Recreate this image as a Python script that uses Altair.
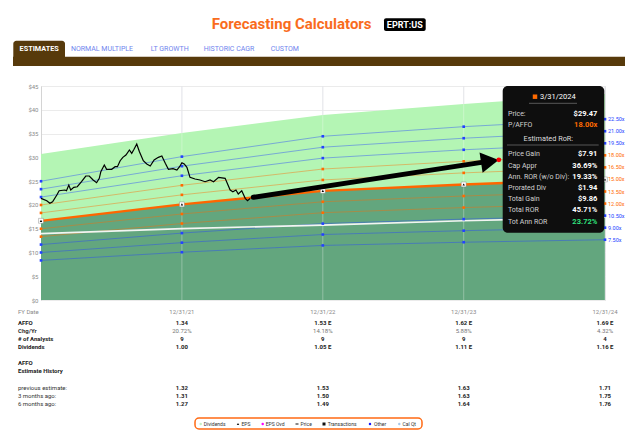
import altair as alt
import pandas as pd

# ---------------- data ----------------
fy_dates = ["2020-12-31", "2021-12-31", "2022-12-31", "2023-12-31", "2024-12-31"]
affo = [1.11, 1.34, 1.53, 1.62, 1.69]
dividends = [0.93, 1.00, 1.05, 1.11, 1.16]
upper_band = [30.7, 35.1, 38.9, 41.2, 43.3]
multiples = [7.5, 9, 10.5, 12, 13.5, 15, 16.5, 18, 19.5, 21, 22.5]
normal_multiple = 15

price_dates = ["2020-12-31", "2021-01-15", "2021-01-23", "2021-01-30", "2021-02-10", "2021-02-16",
               "2021-03-03", "2021-03-07", "2021-03-13", "2021-03-18", "2021-03-26", "2021-04-04",
               "2021-04-15", "2021-04-26", "2021-05-05", "2021-05-15", "2021-05-24", "2021-05-31",
               "2021-06-04", "2021-06-13", "2021-06-19", "2021-07-02", "2021-07-11", "2021-07-17",
               "2021-07-24", "2021-07-31", "2021-08-08", "2021-08-17", "2021-08-23", "2021-08-29",
               "2021-09-05", "2021-09-12", "2021-09-22", "2021-10-01", "2021-10-10", "2021-10-20",
               "2021-10-31", "2021-11-09", "2021-11-18", "2021-11-26", "2021-12-08", "2021-12-18",
               "2021-12-25", "2021-12-31", "2022-01-06", "2022-01-13", "2022-01-21", "2022-02-03",
               "2022-02-16", "2022-03-01", "2022-03-14", "2022-03-23", "2022-04-05", "2022-04-22",
               "2022-05-05", "2022-05-12", "2022-05-20", "2022-05-26", "2022-06-04", "2022-06-13",
               "2022-06-19", "2022-06-26"]
price_values = [21.38, 20.88, 20.33, 20.67, 22.08, 22.98, 23.13, 22.98, 24.18, 23.13, 23.70, 23.82,
                24.87, 26.07, 26.07, 25.23, 24.66, 25.59, 26.98, 28.39, 27.48, 27.48, 28.03, 28.03,
                29.29, 30.00, 30.49, 31.54, 30.85, 31.69, 32.80, 31.18, 29.29, 28.60, 28.18, 29.44,
                30.00, 30.28, 28.74, 27.48, 27.61, 27.33, 28.03, 28.87, 28.60, 27.90, 25.80, 25.44,
                25.23, 24.87, 25.23, 24.87, 25.80, 25.59, 23.13, 22.77, 23.13, 22.29, 22.98, 21.38,
                20.88, 21.38]

tip_date = "2024-03-31"
tip_date_label = "3/31/2024"
tip_price = 29.47
tip_top_labels = ["Price:", "P/AFFO"]
tip_top_values = ["$29.47", "18.00x"]
tip_ror_labels = ["Price Gain", "Cap Appr", "Ann. ROR (w/o Div):", "Prorated Div",
                  "Total Gain", "Total ROR", "Tot Ann ROR"]
tip_ror_values = ["$7.91", "36.69%", "19.33%", "$1.94", "$9.86", "45.71%", "23.72%"]

table_fy_labels = ["12/31/21", "12/31/22", "12/31/23", "12/31/24"]
table_affo = ["1.34", "1.53 E", "1.62 E", "1.69 E"]
table_chg = ["20.72%", "14.18%", "5.88%", "4.32%"]
table_analysts = ["9", "9", "9", "4"]
table_divs = ["1.00", "1.05 E", "1.11 E", "1.16 E"]
hist_prev = ["1.32", "1.53", "1.63", "1.71"]
hist_3m = ["1.31", "1.50", "1.63", "1.75"]
hist_6m = ["1.27", "1.49", "1.64", "1.76"]

tabs = ["ESTIMATES", "NORMAL MULTIPLE", "LT GROWTH", "HISTORIC CAGR", "CUSTOM"]
legend_labels = ["Dividends", "EPS", "EPS Ovd", "Price", "Transactions", "Other", "Cal Qt"]
title_text = "Forecasting Calculators"
ticker = "EPRT:US"

# ---------------- tables ----------------
fy_df = pd.DataFrame({"date": fy_dates, "affo": affo, "div": dividends, "upper": upper_band})
mult_df = pd.DataFrame([{"date": d, "affo": a, "mult": m}
                        for m in multiples for d, a in zip(fy_dates, affo)])
end_df = pd.DataFrame({"date": [fy_dates[-1]] * len(multiples),
                       "affo": [affo[-1]] * len(multiples), "mult": multiples})
price_df = pd.DataFrame({"date": price_dates, "price": price_values})
arrow_df = pd.DataFrame({"date": [price_dates[-1]], "price": [price_values[-1]],
                         "date2": [tip_date], "price2": [tip_price]})
tip_df = pd.DataFrame({"date": [tip_date], "price": [tip_price]})
table_df = pd.DataFrame({"date": fy_dates[1:], "fy": table_fy_labels, "affo": table_affo,
                         "chg": table_chg, "an": table_analysts, "div": table_divs,
                         "h0": hist_prev, "h3": hist_3m, "h6": hist_6m})
one = pd.DataFrame({"k": [0]})

FONT = "Roboto"
xscale = alt.Scale(domain=[alt.DateTime(year=2020, month=12, date=31, utc=True),
                           alt.DateTime(year=2024, month=12, date=31, utc=True)])
yscale = alt.Scale(domain=[0, 45], nice=False)
yaxis = alt.Axis(values=list(range(0, 50, 5)), labelExpr="'$' + datum.value", labelFont=FONT,
                 labelFontSize=6, labelColor="#8a8a8a", ticks=False, labelPadding=3,
                 domainColor="#d4d4d4", gridColor="#ebebeb", title=None)


def X(f="date"):
    return alt.X(f"{f}:T", scale=xscale, axis=None)


def Y(f):
    return alt.Y(f"{f}:Q", scale=yscale, axis=yaxis)


grp_expr = "(datum.mult >= 12 && datum.mult <= 18) ? 'o' : 'b'"
gcolor = alt.Color("grp:N", scale=alt.Scale(domain=["b", "o"], range=["#2342ff", "#ff6a00"]),
                   legend=None)

layers = []
# vertical grid under areas
layers.append(alt.Chart(fy_df.iloc[1:]).mark_rule(color="#dcdde3", strokeWidth=1).encode(x=X()))
# bands
layers.append(alt.Chart(fy_df).mark_area(color="#b4f5b4", opacity=1).encode(x=X(), y=Y("upper")))
layers.append(alt.Chart(fy_df).transform_calculate(price=f"{normal_multiple} * datum.affo")
              .mark_area(color="#63a67e", opacity=1).encode(x=X(), y=Y("price")))
layers.append(alt.Chart(fy_df.iloc[1:]).mark_rule(color="#ffffff", strokeWidth=1, opacity=0.3)
              .encode(x=X()))
# multiple lines
layers.append(alt.Chart(mult_df).transform_filter(f"datum.mult != {normal_multiple}")
              .transform_calculate(price="datum.mult * datum.affo", grp=grp_expr)
              .mark_line(strokeWidth=1, opacity=0.42)
              .encode(x=X(), y=Y("price"), detail="mult:N", color=gcolor))
# dividend line
layers.append(alt.Chart(fy_df).transform_calculate(price=f"{normal_multiple} * datum.div")
              .mark_line(color="#f2f5f2", strokeWidth=1.6).encode(x=X(), y=Y("price")))
# normal multiple line
layers.append(alt.Chart(fy_df).transform_calculate(price=f"{normal_multiple} * datum.affo")
              .mark_line(color="#ff6600", strokeWidth=2.4).encode(x=X(), y=Y("price")))
# squares at FY points
layers.append(alt.Chart(mult_df).transform_filter(f"datum.mult != {normal_multiple}")
              .transform_calculate(price="datum.mult * datum.affo", grp=grp_expr)
              .mark_square(size=7, opacity=1).encode(x=X(), y=Y("price"), color=gcolor))
# EPS markers
layers.append(alt.Chart(fy_df).transform_calculate(price=f"{normal_multiple} * datum.affo")
              .mark_square(size=24, color="#ffffff", opacity=1, stroke="#777777", strokeWidth=0.4)
              .encode(x=X(), y=Y("price")))
layers.append(alt.Chart(fy_df).transform_calculate(price=f"{normal_multiple} * datum.affo")
              .mark_point(shape="triangle-up", filled=True, size=6, color="#000000", opacity=1)
              .encode(x=X(), y=Y("price")))
# price line
layers.append(alt.Chart(price_df).mark_line(color="#000000", strokeWidth=1.2)
              .encode(x=X(), y=Y("price")))
# arrow
layers.append(alt.Chart(arrow_df).mark_rule(color="#000000", strokeWidth=5, strokeCap="round",
                                            xOffset=3, yOffset=-1, x2Offset=-14, y2Offset=2)
              .encode(x=X(), y=Y("price"), x2="date2:T", y2="price2:Q"))
layers.append(alt.Chart(arrow_df).mark_point(shape="triangle-right", filled=True, size=420,
                                             color="#000000", opacity=1, angle=351.4,
                                             xOffset=-9, yOffset=1.4)
              .encode(x=X("date2"), y=Y("price2")))
layers.append(alt.Chart(tip_df).mark_circle(size=24, color="#ff0000", opacity=1)
              .encode(x=X(), y=Y("price")))

# right side multiple labels
layers.append(alt.Chart(end_df)
              .transform_calculate(price="datum.mult * datum.affo", grp=grp_expr,
                                   label="format(datum.mult, '.2f') + 'x'")
              .mark_text(align="left", baseline="middle", dx=3, fontSize=5.5, font=FONT)
              .encode(x=X(), y=Y("price"), text="label:N", color=gcolor))

# tooltip box
TL = 7.0
layers.append(alt.Chart(one).mark_rect(color="#0e0e0e", cornerRadius=5, opacity=1)
              .encode(x=alt.value(461.7), x2=alt.value(563.3), y=alt.value(0), y2=alt.value(146.7)))
layers.append(alt.Chart(one).mark_square(size=20, color="#ff6a00", opacity=1)
              .encode(x=alt.value(494), y=alt.value(10.7)))
layers.append(alt.Chart(one).mark_text(text=tip_date_label, align="left", baseline="middle",
                                       fontSize=7.5, color="#ffffff", font=FONT)
              .encode(x=alt.value(499), y=alt.value(10.7)))
layers.append(alt.Chart(one).mark_rule(color="#6a6a6a", strokeWidth=0.8)
              .encode(x=alt.value(488), x2=alt.value(536), y=alt.value(17.3)))
layers.append(alt.Chart(one).mark_text(text="Estimated RoR:", align="center", baseline="middle",
                                       fontSize=7.3, color="#dddddd", font=FONT)
              .encode(x=alt.value(507.3), y=alt.value(53.3)))
layers.append(alt.Chart(one).mark_rule(color="#6a6a6a", strokeWidth=0.8)
              .encode(x=alt.value(466), x2=alt.value(557.7), y=alt.value(59)))
top_y = [27.7, 39.3]
for lab, val, yy in zip(tip_top_labels, tip_top_values, top_y):
    vcol = "#ff6a00" if val.endswith("x") else "#ffffff"
    layers.append(alt.Chart(one).mark_text(text=lab, align="left", baseline="middle", fontSize=TL,
                                           color="#d2d2d2", font=FONT)
                  .encode(x=alt.value(467), y=alt.value(yy)))
    layers.append(alt.Chart(one).mark_text(text=val, align="right", baseline="middle", fontSize=7.5,
                                           fontWeight="bold", color=vcol, font=FONT)
                  .encode(x=alt.value(556.3), y=alt.value(yy)))
for i, (lab, val) in enumerate(zip(tip_ror_labels, tip_ror_values)):
    yy = 68.3 + i * 11.23
    vcol = "#2fe07c" if i == len(tip_ror_labels) - 1 else "#ffffff"
    layers.append(alt.Chart(one).mark_text(text=lab, align="left", baseline="middle", fontSize=TL,
                                           color="#d2d2d2", font=FONT)
                  .encode(x=alt.value(467), y=alt.value(yy)))
    layers.append(alt.Chart(one).mark_text(text=val, align="right", baseline="middle", fontSize=7.5,
                                           fontWeight="bold", color=vcol, font=FONT)
                  .encode(x=alt.value(556.3), y=alt.value(yy)))

# table under the chart
row_specs = [("fy", "FY Date", 225.7, "normal", "#8a8a8a", "normal", "#8a8a8a"),
             ("affo", "AFFO", 236.7, "bold", "#222222", "bold", "#222222"),
             ("chg", "Chg/Yr", 244.7, "bold", "#333333", "normal", "#777777"),
             ("an", "# of Analysts", 253.0, "bold", "#222222", "bold", "#222222"),
             ("div", "Dividends", 260.7, "bold", "#222222", "bold", "#222222"),
             ("h0", "previous estimate:", 302.3, "normal", "#333333", "bold", "#222222"),
             ("h3", "3 months ago:", 310.0, "normal", "#333333", "bold", "#222222"),
             ("h6", "6 months ago:", 318.0, "normal", "#333333", "bold", "#222222")]
for field, lab, yy, lw, lc, vw, vc in row_specs:
    layers.append(alt.Chart(one).mark_text(text=lab, align="left", baseline="middle", fontSize=6,
                                           fontWeight=lw, color=lc, font=FONT)
                  .encode(x=alt.value(-23), y=alt.value(yy)))
    layers.append(alt.Chart(table_df).mark_text(align="center", baseline="middle", fontSize=6,
                                                fontWeight=vw, color=vc, font=FONT)
                  .encode(x=X(), y=alt.value(yy), text=f"{field}:N"))
for lab, yy in [("AFFO", 277.3), ("Estimate History", 285.3)]:
    layers.append(alt.Chart(one).mark_text(text=lab, align="left", baseline="middle", fontSize=6,
                                           fontWeight="bold", color="#222222", font=FONT)
                  .encode(x=alt.value(-23), y=alt.value(yy)))

# legend box
layers.append(alt.Chart(one).mark_rect(fill="#ffffff", stroke="#ff6a13", strokeWidth=1.5,
                                       cornerRadius=4, opacity=1)
              .encode(x=alt.value(154), x2=alt.value(381), y=alt.value(332), y2=alt.value(343)))
leg_marker_x = [159.7, 197, 221.7, 256, 283, 329, 358.3]
leg_text_x = [162.7, 200.5, 224.7, 259.5, 286.7, 333, 361.5]
LY = 338
layers.append(alt.Chart(one).mark_circle(size=6, color="#c4efc4", opacity=1)
              .encode(x=alt.value(leg_marker_x[0]), y=alt.value(LY)))
layers.append(alt.Chart(one).mark_point(shape="triangle-up", filled=True, size=6, color="#111111",
                                        opacity=1)
              .encode(x=alt.value(leg_marker_x[1]), y=alt.value(LY)))
layers.append(alt.Chart(one).mark_circle(size=6, color="#ff00ff", opacity=1)
              .encode(x=alt.value(leg_marker_x[2]), y=alt.value(LY)))
layers.append(alt.Chart(one).mark_rule(color="#111111", strokeWidth=1)
              .encode(x=alt.value(leg_marker_x[3] - 1.5), x2=alt.value(leg_marker_x[3] + 1.5),
                      y=alt.value(LY)))
layers.append(alt.Chart(one).mark_square(size=9, color="#111111", opacity=1)
              .encode(x=alt.value(leg_marker_x[4]), y=alt.value(LY)))
layers.append(alt.Chart(one).mark_circle(size=6, color="#1a1aff", opacity=1)
              .encode(x=alt.value(leg_marker_x[5]), y=alt.value(LY)))
layers.append(alt.Chart(one).mark_circle(size=6, color="#a9c8ea", opacity=1)
              .encode(x=alt.value(leg_marker_x[6]), y=alt.value(LY)))
for lab, tx in zip(legend_labels, leg_text_x):
    layers.append(alt.Chart(one).mark_text(text=lab, align="left", baseline="middle", fontSize=5,
                                           color="#333333", font=FONT)
                  .encode(x=alt.value(tx), y=alt.value(LY)))

# title, badge, tabs
layers.append(alt.Chart(one).mark_text(text=title_text, align="left", baseline="alphabetic",
                                       fontSize=15, fontWeight="bold", color="#f96c1d", font=FONT)
              .encode(x=alt.value(170.7), y=alt.value(-57.5)))
layers.append(alt.Chart(one).mark_rect(color="#000000", cornerRadius=2, opacity=1)
              .encode(x=alt.value(343), x2=alt.value(384.7), y=alt.value(-67.7), y2=alt.value(-55)))
layers.append(alt.Chart(one).mark_text(text=ticker, align="center", baseline="middle", fontSize=9,
                                       fontWeight="bold", color="#ffffff", font=FONT)
              .encode(x=alt.value(363.8), y=alt.value(-61.3)))
layers.append(alt.Chart(one).mark_rect(color="#573a0b", opacity=1)
              .encode(x=alt.value(-28), x2=alt.value(584), y=alt.value(-29.3), y2=alt.value(-20)))
layers.append(alt.Chart(one).mark_rect(color="#573a0b", opacity=1, cornerRadiusTopLeft=3,
                                       cornerRadiusTopRight=3)
              .encode(x=alt.value(-27.7), x2=alt.value(24), y=alt.value(-45.3), y2=alt.value(-29)))
layers.append(alt.Chart(one).mark_text(text=tabs[0], align="center", baseline="middle",
                                       fontSize=7.3, fontWeight="bold", color="#ffffff", font=FONT)
              .encode(x=alt.value(-1.8), y=alt.value(-37)))
for lab, tx in zip(tabs[1:], [30, 109.7, 162.7, 229.7]):
    layers.append(alt.Chart(one).mark_text(text=lab, align="left", baseline="middle", fontSize=7,
                                           color="#6f84ee", font=FONT)
                  .encode(x=alt.value(tx), y=alt.value(-37)))

chart = alt.layer(*layers).properties(
    width=564, height=214,
    autosize=alt.AutoSizeParams(type="none"),
    padding={"left": 33, "top": 78, "right": 27, "bottom": 130},
    background="#ffffff",
).configure_view(stroke=None).configure(font=FONT)

chart.save("out.html", embed_options={"renderer": "svg", "actions": False})
